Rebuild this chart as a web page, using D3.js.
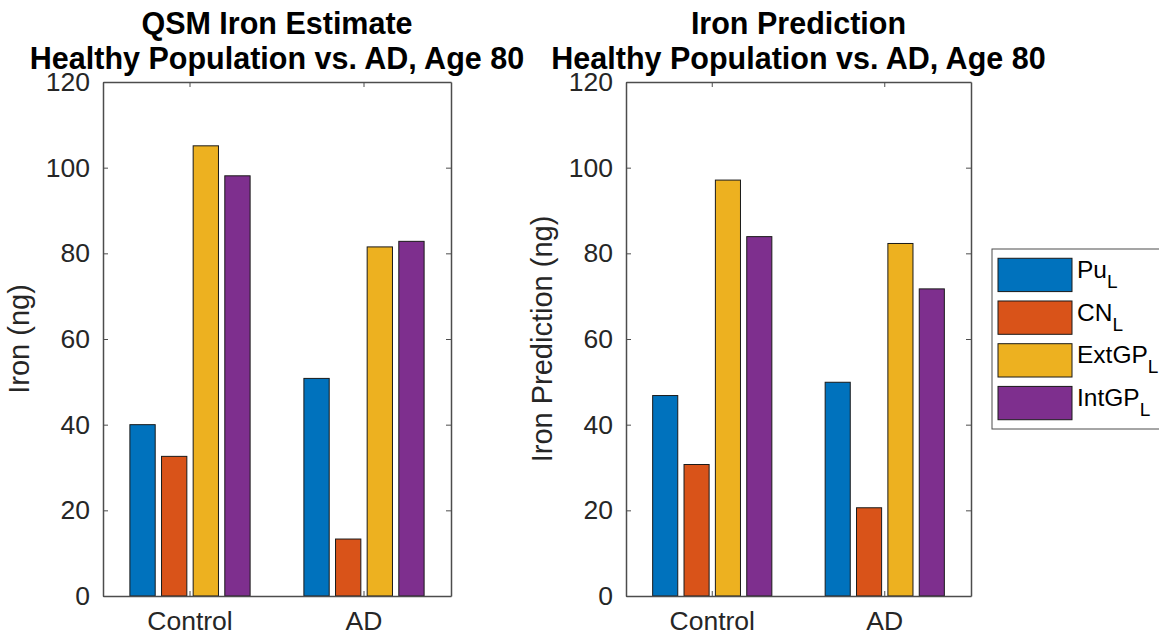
<!DOCTYPE html>
<html>
<head>
<meta charset="utf-8">
<script src="https://cdn.jsdelivr.net/npm/d3@7"></script>
<style>
  html, body { margin: 0; padding: 0; background: #fff; }
  svg { display: block; font-family: "Liberation Sans", Arial, Helvetica, sans-serif; }
</style>
</head>
<body>
<svg id="chart" width="1159" height="636"></svg>
<script>
// ---- data ----
const categories = ["Control", "AD"];
const seriesNames = ["Pu", "CN", "ExtGP", "IntGP"];
const seriesSub = ["L", "L", "L", "L"];
const seriesColors = ["#0072BD", "#D95319", "#EDB120", "#7E2F8E"];
const qsmValues = [
  [40.0, 32.6, 105.1, 98.1],   // Control
  [50.8, 13.3, 81.5, 82.8]     // AD
];
const predValues = [
  [46.8, 30.7, 97.1, 83.9],    // Control
  [49.9, 20.6, 82.3, 71.7]     // AD
];
const yTicks = [0, 20, 40, 60, 80, 100, 120];
const titlesLeft = ["QSM Iron Estimate", "Healthy Population vs. AD, Age 80"];
const titlesRight = ["Iron Prediction", "Healthy Population vs. AD, Age 80"];
const yLabelLeft = "Iron (ng)";
const yLabelRight = "Iron Prediction (ng)";

// ---- layout ----
const svg = d3.select("#chart");
const axColor = "#262626";
const plotTop = 82, plotBottom = 596;

function drawPanel(x0, x1, values, titles, ylabel) {
  const g = svg.append("g");
  const y = d3.scaleLinear().domain([0, 120]).range([plotBottom, plotTop]);
  const x = d3.scaleBand().domain(categories).range([x0, x1]).paddingInner(0).paddingOuter(0);
  const groupW = x.bandwidth() * Math.min(0.8, 4 / (4 + 1.5));
  const xs = d3.scaleBand().domain(seriesNames).range([-groupW / 2, groupW / 2])
    .paddingInner(0.2).paddingOuter(0.1);

  // bars
  categories.forEach((c, ci) => {
    const cx = x(c) + x.bandwidth() / 2;
    g.selectAll(null).data(values[ci]).enter().append("rect")
      .attr("x", (d, i) => cx + xs(seriesNames[i]))
      .attr("width", xs.bandwidth())
      .attr("y", d => y(d))
      .attr("height", d => y(0) - y(d))
      .attr("fill", (d, i) => seriesColors[i])
      .attr("stroke", "#1a1a1a")
      .attr("stroke-width", 1);
  });

  // axes
  const yAxisL = d3.axisLeft(y).tickValues(yTicks).tickSizeInner(-5).tickSizeOuter(0).tickPadding(13);
  const yAxisR = d3.axisRight(y).tickValues(yTicks).tickSizeInner(-5).tickSizeOuter(0).tickFormat("");
  const xAxisB = d3.axisBottom(x).tickSizeInner(-5).tickSizeOuter(0).tickPadding(15);
  const xAxisT = d3.axisTop(x).tickSizeInner(-5).tickSizeOuter(0).tickFormat("");

  const styleAxis = sel => {
    sel.selectAll("path").attr("stroke", "#4d4d4d").attr("stroke-width", 1.5);
    sel.selectAll("line").attr("stroke", "#4d4d4d").attr("stroke-width", 1);
    sel.selectAll("text").attr("fill", axColor).style("font-size", "26.5px")
      .style("font-family", "'Liberation Sans', Arial, sans-serif");
  };
  g.append("g").attr("transform", `translate(${x0},0)`).call(yAxisL).call(styleAxis);
  g.append("g").attr("transform", `translate(${x1},0)`).call(yAxisR).call(styleAxis);
  g.append("g").attr("transform", `translate(0,${plotBottom})`).call(xAxisB).call(styleAxis);
  g.append("g").attr("transform", `translate(0,${plotTop})`).call(xAxisT).call(styleAxis);

  // y label
  g.append("text")
    .attr("transform", `translate(${x0 - 74},${(plotTop + plotBottom) / 2}) rotate(-90)`)
    .attr("text-anchor", "middle")
    .attr("fill", axColor)
    .style("font-size", "29px")
    .text(ylabel);

  // title
  const tx = (x0 + x1) / 2;
  titles.forEach((t, i) => {
    g.append("text")
      .attr("x", tx).attr("y", 34 + i * 35)
      .attr("text-anchor", "middle")
      .attr("fill", "#000")
      .style("font-size", "30.5px")
      .style("font-weight", "bold")
      .text(t);
  });
}

drawPanel(103, 451, qsmValues, titlesLeft, yLabelLeft);
drawPanel(626, 971, predValues, titlesRight, yLabelRight);

// legend
const lg = svg.append("g");
lg.append("rect").attr("x", 992).attr("y", 249).attr("width", 180).attr("height", 180)
  .attr("fill", "#fff").attr("stroke", "#4d4d4d").attr("stroke-width", 1);
const ly = d3.scaleBand().domain(seriesNames).range([254, 424]).paddingInner(0.22).paddingOuter(0.1);
seriesNames.forEach((s, i) => {
  lg.append("rect").attr("x", 998).attr("y", ly(s)).attr("width", 74).attr("height", ly.bandwidth())
    .attr("fill", seriesColors[i]).attr("stroke", "#1a1a1a").attr("stroke-width", 1);
  const t = lg.append("text").attr("x", 1077).attr("y", ly(s) + ly.bandwidth() / 2 + 3)
    .attr("fill", "#000").style("font-size", "24.5px");
  t.append("tspan").text(s);
  t.append("tspan").attr("dy", 10).style("font-size", "19px").text(seriesSub[i]);
});
</script>
</body>
</html>
